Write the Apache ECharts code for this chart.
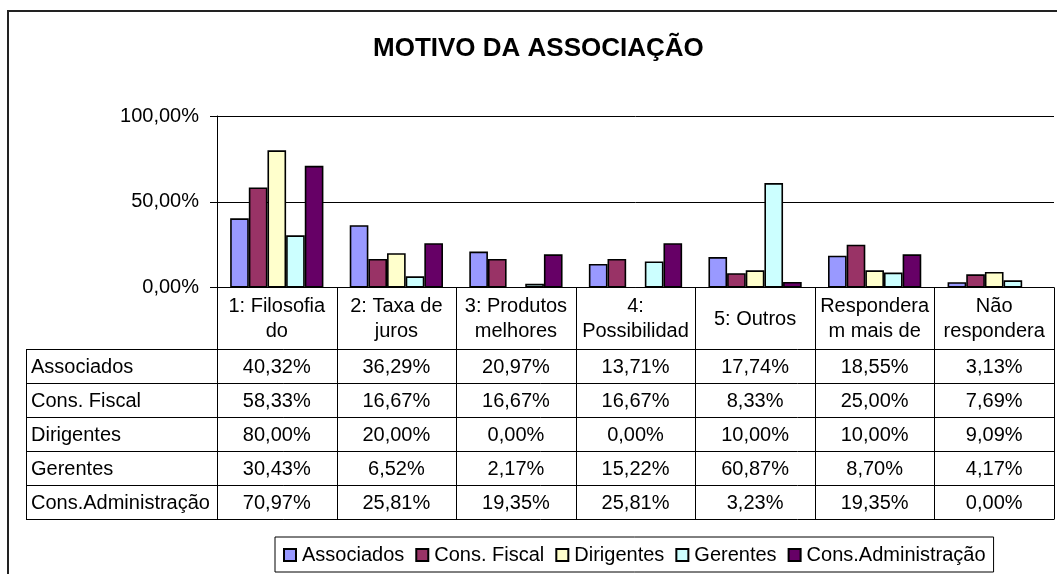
<!DOCTYPE html>
<html>
<head>
<meta charset="utf-8">
<script src="https://cdn.jsdelivr.net/npm/echarts@6/dist/echarts.min.js"></script>
<style>
  html, body { margin: 0; padding: 0; background: #fff; }
  #chart { width: 1057px; height: 574px; }
</style>
</head>
<body>
<div id="chart"></div>
<script>
const categories = ['1: Filosofia\ndo', '2: Taxa de\njuros', '3: Produtos\nmelhores', '4:\nPossibilidad', '5: Outros', 'Respondera\nm mais de', 'Não\nrespondera'];
const seriesNames = ['Associados', 'Cons. Fiscal', 'Dirigentes', 'Gerentes', 'Cons.Administração'];
const associados = [40.32, 36.29, 20.97, 13.71, 17.74, 18.55, 3.13];
const consFiscal = [58.33, 16.67, 16.67, 16.67, 8.33, 25.00, 7.69];
const dirigentes = [80.00, 20.00, 0.00, 0.00, 10.00, 10.00, 9.09];
const gerentes = [30.43, 6.52, 2.17, 15.22, 60.87, 8.70, 4.17];
const consAdministracao = [70.97, 25.81, 19.35, 25.81, 3.23, 19.35, 0.00];
const colors = ['#9999FF', '#993366', '#FFFFCC', '#CCFFFF', '#660066'];
const yMin = 0, yMax = 100, yStep = 50;

const allValues = [associados, consFiscal, dirigentes, gerentes, consAdministracao];

// layout of plot area and data table
const plotLeft = 217, plotRight = 1054, plotTop = 116, plotBottom = 287.5;
const headerBottom = 349, rowH = 34, tableLeft = 26;
const colW = (plotRight - plotLeft) / categories.length;
const tableBottom = headerBottom + rowH * seriesNames.length;
const font = 'Liberation Sans, Arial, sans-serif';

function pct(v) {
    return v.toFixed(2).replace('.', ',') + '%';
}

const graphic = [];

graphic.push({
    type: 'rect', z: 0, silent: true,
    shape: { x: 8, y: 11, width: 1200, height: 800 },
    style: { fill: 'none', stroke: '#222', lineWidth: 2 }
});

// vertical lines of the table
for (let i = 0; i <= categories.length; i++) {
    const x = Math.round(plotLeft + i * colW) + 0.5;
    graphic.push({
        type: 'line', z: 10, silent: true,
        shape: { x1: x, y1: plotBottom, x2: x, y2: tableBottom },
        style: { stroke: '#000', lineWidth: 1 }
    });
}
graphic.push({
    type: 'line', z: 10, silent: true,
    shape: { x1: tableLeft + 0.5, y1: headerBottom, x2: tableLeft + 0.5, y2: tableBottom },
    style: { stroke: '#000', lineWidth: 1 }
});
// horizontal lines
for (let r = 0; r <= seriesNames.length; r++) {
    const y = headerBottom + r * rowH + 0.5;
    graphic.push({
        type: 'line', z: 10, silent: true,
        shape: { x1: tableLeft, y1: y, x2: plotRight + 0.5, y2: y },
        style: { stroke: '#000', lineWidth: 1 }
    });
}
// header cells
categories.forEach((c, i) => {
    graphic.push({
        type: 'text', z: 10, silent: true,
        x: plotLeft + (i + 0.5) * colW,
        y: (plotBottom + headerBottom) / 2 + 1,
        style: {
            text: c, fill: '#000', font: '20px ' + font,
            align: 'center', verticalAlign: 'middle', lineHeight: 25
        }
    });
});
// rows
seriesNames.forEach((name, r) => {
    const cy = headerBottom + (r + 0.5) * rowH + 1;
    graphic.push({
        type: 'text', z: 10, silent: true,
        x: tableLeft + 5, y: cy,
        style: { text: name, fill: '#000', font: '20px ' + font, align: 'left', verticalAlign: 'middle' }
    });
    allValues[r].forEach((v, i) => {
        graphic.push({
            type: 'text', z: 10, silent: true,
            x: plotLeft + (i + 0.5) * colW, y: cy,
            style: { text: pct(v), fill: '#000', font: '20px ' + font, align: 'center', verticalAlign: 'middle' }
        });
    });
});

const chart = echarts.init(document.getElementById('chart'));

chart.setOption({
    animation: false,
    backgroundColor: '#fff',
    title: {
        text: 'MOTIVO DA ASSOCIAÇÃO',
        left: 373,
        top: 36,
        padding: 0,
        textStyle: { fontFamily: font, fontSize: 26, fontWeight: 'bold', color: '#000' }
    },
    legend: {
        data: seriesNames,
        left: 275,
        top: 537,
        orient: 'horizontal',
        padding: [8, 8, 7, 8],
        borderColor: '#000',
        borderWidth: 1,
        itemWidth: 12,
        itemHeight: 12,
        itemGap: 11,
        icon: 'rect',
        textStyle: { fontFamily: font, fontSize: 20, color: '#000', padding: [0, 0, 0, 1] }
    },
    grid: {
        left: plotLeft,
        top: plotTop,
        width: plotRight - plotLeft,
        height: plotBottom - plotTop
    },
    xAxis: {
        type: 'category',
        data: categories,
        axisLine: { show: true, lineStyle: { color: '#000', width: 1 } },
        axisTick: { show: false },
        axisLabel: { show: false }
    },
    yAxis: {
        type: 'value',
        min: yMin,
        max: yMax,
        interval: yStep,
        axisLine: { show: true, lineStyle: { color: '#000', width: 1 } },
        axisTick: { show: true, length: 7, lineStyle: { color: '#000' } },
        axisLabel: {
            margin: 18,
            color: '#000',
            fontFamily: font,
            fontSize: 20,
            formatter: (v) => pct(v)
        },
        splitLine: { show: true, lineStyle: { color: '#000', width: 1 } }
    },
    series: seriesNames.map((name, k) => ({
        name: name,
        type: 'bar',
        barGap: '0%',
        barCategoryGap: '22%',
        data: allValues[k].map((v) => (v === 0 ? '-' : v)),
        itemStyle: { color: colors[k], borderColor: '#000', borderWidth: 1.6 }
    })),
    graphic: graphic
});
</script>
</body>
</html>
